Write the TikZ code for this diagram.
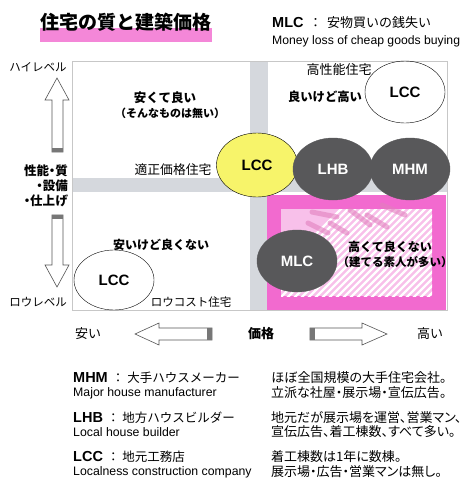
\documentclass[tikz,border=0pt]{standalone}
\usepackage{fontspec}
\setmainfont{Liberation Sans}
\newfontfamily\jp{Noto Sans CJK JP}
\newfontfamily\jpp{Noto Sans CJK JP}[RawFeature=+palt]
\usetikzlibrary{shapes.geometric}
\definecolor{bandgray}{HTML}{D5D8DD}
\definecolor{ellgray}{HTML}{58585A}
\definecolor{yell}{HTML}{F7F46A}
\definecolor{mag}{HTML}{F26ACF}
\definecolor{lpink}{HTML}{F8C0EA}
\definecolor{blob}{HTML}{E27FBE}
\definecolor{arrline}{HTML}{555555}
\tikzset{
  jpt/.style={inner sep=0pt, font=\jp\fontsize{#1}{#1}\selectfont},
  jpt/.default=12,
  jpp/.style={inner sep=0pt, font=\jpp\fontsize{#1}{#1}\selectfont},
  jpp/.default=13,
  jpb/.style={inner sep=0pt, align=center, font=\jp\bfseries\fontsize{#1}{#1}\selectfont},
  jpb/.default=12.5,
  ell/.style={ellipse, draw, minimum width=80pt, minimum height=62pt, inner sep=0pt,
    font=\bfseries\fontsize{15}{15}\selectfont},
  darkell/.style={ell, fill=ellgray, draw=ellgray, text=white},
  hollow/.style={draw=arrline, line width=0.6pt, fill=white},
  tailblock/.style={fill=arrline!80},
  legl/.style={inner sep=0pt, anchor=west},
}
\begin{document}
\begin{tikzpicture}[x=1pt,y=-1pt]
\useasboundingbox (0,0) rectangle (472,500);
\fill[white] (0,0) rectangle (472,500);

% title
\fill[mag, opacity=0.8] (40,28) rectangle (212,42);
\node[jpb=19] (title) at (126,22) {住宅の質と建築価格};

% MLC top
\node[legl] (mlc1) at (272,23) {{\bfseries\fontsize{14.5}{15}\selectfont MLC}\hspace{5.5pt}{\jp\fontsize{13}{13}\selectfont ：\hspace{5pt}安物買いの銭失い}};
\node[legl] (mlc2) at (272,41) {\fontsize{12.2}{13}\selectfont Money loss of cheap goods buying};

% chart background
\fill[bandgray] (250,61) rectangle (268,310);
\fill[bandgray] (72,178) rectangle (447,192);
\draw[black!22, line width=0.6pt] (72,61) rectangle (447,310);

% pink region
\fill[mag] (267,195) rectangle (446,310);
\fill[lpink] (281,209) rectangle (432,296);
\begin{scope}
  \clip (281,209) rectangle (432,296);
  \foreach \i in {0,7,...,280} {
    \draw[white, line width=2.4pt] (250+\i,300) -- (250+\i+95,205);
  }
\end{scope}
\foreach \a/\b in {{(312,212)}/{(337,217)}, {(308,223)}/{(328,233)}, {(350,210)}/{(370,225)},
                   {(382,205)}/{(405,215)}, {(367,215)}/{(387,227)}, {(330,223)}/{(347,233)}} {
  \draw[blob, opacity=0.6, line width=5pt, line cap=round] \a -- \b;
}

% ellipses
\node[ell] (lccTop) at (405,92) {LCC};
\node[ell, fill=yell, minimum width=81pt, minimum height=64pt] (lccMid) at (257,165) {LCC};
\node[darkell] (lhb) at (333,169) {LHB};
\node[darkell] (mhm) at (410,169) {MHM};
\node[darkell] (mlc) at (297,261) {MLC};
\node[ell, minimum width=80pt, minimum height=60pt] (lccLow) at (114,280) {LCC};

% quadrant texts
\node[jpt=11.5] (high) at (38,67) {ハイレベル};
\node[jpt=11.5] (low) at (38,302) {ロウレベル};
\node[inner sep=0pt, align=right, anchor=east, font=\jpp\bfseries\fontsize{12.5}{12.5}\selectfont] (quality) at (68,186) {性能・質\\[2.5pt]・設備\\[2.5pt]・仕上げ};
\node[jpb=12.5] (q1a) at (165,98) {安くて良い};
\node[jpb=11] (q1b) at (170,113) {（そんなものは無い）};
\node[jpt=13] (hp) at (339,70) {高性能住宅};
\node[jpb=12.3] (q2) at (325,97) {良いけど高い};
\node[jpt=12.8] (fair) at (173,170) {適正価格住宅};
\node[jpb=12] (q3) at (161,245) {安いけど良くない};
\node[jpt=11.5] (lc) at (191,302) {ロウコスト住宅};
\node[jpb=12] (q4a) at (390,247) {高くて良くない};
\node[jpb=11.5] (q4b) at (395,262) {（建てる素人が多い）};

% vertical arrows
\draw[hollow] (57,78) -- (69,100) -- (63,100) -- (63,152) -- (52,152) -- (52,100) -- (45,100) -- cycle;
\fill[tailblock] (52.4,148) rectangle (62.6,151.6);
\draw[hollow] (52,215) -- (63,215) -- (63,265) -- (69,265) -- (57,287) -- (45,265) -- (52,265) -- cycle;
\fill[tailblock] (52.4,215.4) rectangle (62.6,219);

% horizontal axis
\node[jpt=13] (cheap) at (88,334) {安い};
\node[jpb=13] (price) at (261,334) {価格};
\node[jpt=13] (dear) at (430,334) {高い};
\draw[hollow] (135,334) -- (159,323) -- (159,328) -- (212,328) -- (212,340) -- (159,340) -- (159,345) -- cycle;
\fill[tailblock] (207,328.4) rectangle (211.6,339.6);
\draw[hollow] (310,328) -- (362,328) -- (362,323) -- (387,334) -- (362,345) -- (362,340) -- (310,340) -- cycle;
\fill[tailblock] (310.4,328.4) rectangle (315,339.6);

% legend
\foreach \nm/\ab/\jpn/\en/\ya/\yb/\ra/\rb in {
  mhm/MHM/大手ハウスメーカー/Major house manufacturer/378/393/ほぼ全国規模の大手住宅会社。/立派な社屋・展示場・宣伝広告。,
  lhb/LHB/地方ハウスビルダー/Local house builder/418/432/地元だが展示場を運営、営業マン、/宣伝広告、着工棟数、すべて多い。,
  lcc/LCC/地元工務店/Localness construction company/457/472/着工棟数は1年に数棟。/展示場・広告・営業マンは無し。} {
  \node[legl] (leg-\nm-a) at (73,\ya) {{\bfseries\fontsize{14.5}{15}\selectfont \ab}\hspace{4pt}{\jp\fontsize{12.5}{13}\selectfont ：\hspace{3pt}\jpn}};
  \node[legl] (leg-\nm-b) at (73,\yb) {\fontsize{12.3}{13}\selectfont \en};
  \node[legl, jpp=13] (leg-\nm-c) at (271,\ya) {\ra};
  \node[legl, jpp=13] (leg-\nm-d) at (271,\yb) {\rb};
}
\end{tikzpicture}
\end{document}
